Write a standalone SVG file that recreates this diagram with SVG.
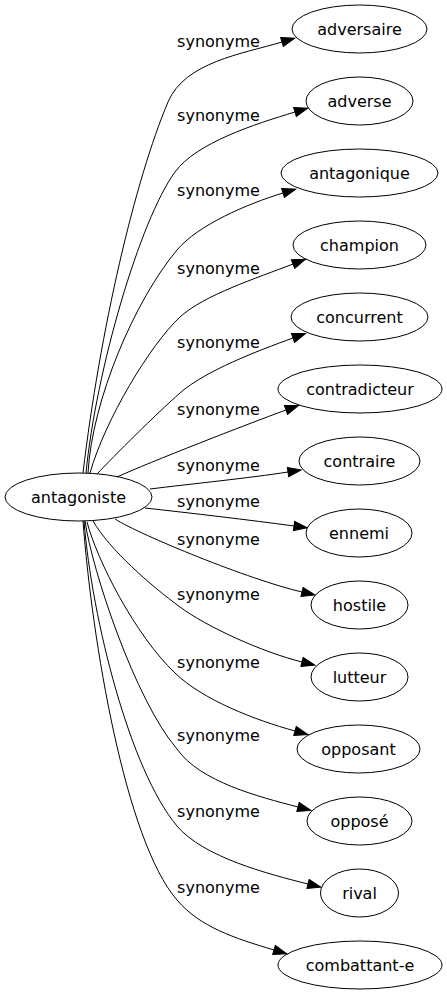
<svg xmlns="http://www.w3.org/2000/svg" width="447" height="995" viewBox="0 0 447 995">
<style>
.n ellipse{fill:none;stroke:#000;stroke-width:1}
text{font-family:"DejaVu Sans","Liberation Sans",sans-serif;font-size:16px;text-anchor:middle;fill:#000}
.e path{fill:none;stroke:#000;stroke-width:1;marker-end:url(#ah)}
</style>
<defs>
<marker id="ah" markerUnits="userSpaceOnUse" markerWidth="14" markerHeight="10" refX="0" refY="4.67" orient="auto" overflow="visible">
<path d="M0,0 L13.3,4.67 L0,9.33 Z" fill="#000" stroke="#000" stroke-width="1"/>
</marker>
</defs>
<rect width="447" height="995" fill="#fff"/>
<g id="connectors" class="e">
<g id="e1"><path d="M83,473 C100,330 135,180 168,102 C185,62 242,54 282,42"/><text x="218.5" y="47">synonyme</text></g>
<g id="e2"><path d="M86,473 C96,370 140,220 175,172 C196,143 255,124 295,112"/><text x="218.5" y="121">synonyme</text></g>
<g id="e3"><path d="M88,473 C92,400 135,300 177,250 C198,225 247,204 283,193"/><text x="218.5" y="196">synonyme</text></g>
<g id="e4"><path d="M90,473 C105,420 150,345 180,317 C204,295 257,278 293,264"/><text x="218.5" y="274">synonyme</text></g>
<g id="e5"><path d="M97,474 C115,455 155,415 180,393 C205,371 257,351 293,338"/><text x="218.5" y="347.5">synonyme</text></g>
<g id="e6"><path d="M117,477 C150,462 245,425 286,410"/><text x="218.5" y="415">synonyme</text></g>
<g id="e7"><path d="M150,489 C190,484 250,478 288,472"/><text x="218.5" y="470.5">synonyme</text></g>
<g id="e8"><path d="M145,508 C190,513 250,520 294,526"/><text x="218.5" y="507">synonyme</text></g>
<g id="e9"><path d="M115,519 C140,535 250,580 302,592"/><text x="218.5" y="545">synonyme</text></g>
<g id="e10"><path d="M93,521 C110,550 150,585 180,607 C207,627 262,652 302,662"/><text x="218.5" y="600">synonyme</text></g>
<g id="e11"><path d="M87,522 C97,560 135,635 175,673 C203,700 255,720 295,731"/><text x="218.5" y="668">synonyme</text></g>
<g id="e12"><path d="M85,521 C92,570 135,700 177,749 C200,782 260,797 298,807"/><text x="218.5" y="741">synonyme</text></g>
<g id="e13"><path d="M84,521 C92,620 130,770 177,826 C203,857 268,874 308,884"/><text x="218.5" y="816.5">synonyme</text></g>
<g id="e14"><path d="M83,521 C92,640 125,840 177,900 C200,927 234,938 274,950"/><text x="218.5" y="893">synonyme</text></g>
</g>
<g id="antagoniste" class="n"><ellipse cx="78.5" cy="497" rx="73.5" ry="24"/><text x="78.5" y="503">antagoniste</text></g>
<g id="adversaire" class="n"><ellipse cx="359.5" cy="29" rx="67.5" ry="24"/><text x="359.5" y="35">adversaire</text></g>
<g id="adverse" class="n"><ellipse cx="359.5" cy="101" rx="53.5" ry="24"/><text x="359.5" y="107">adverse</text></g>
<g id="antagonique" class="n"><ellipse cx="359.5" cy="173" rx="78.5" ry="24"/><text x="359.5" y="179">antagonique</text></g>
<g id="champion" class="n"><ellipse cx="359.5" cy="245" rx="66.5" ry="24"/><text x="359.5" y="251">champion</text></g>
<g id="concurrent" class="n"><ellipse cx="359.5" cy="317" rx="68.5" ry="24"/><text x="359.5" y="323">concurrent</text></g>
<g id="contradicteur" class="n"><ellipse cx="360" cy="389" rx="82" ry="24"/><text x="360" y="395">contradicteur</text></g>
<g id="contraire" class="n"><ellipse cx="359.5" cy="461" rx="60.5" ry="24"/><text x="359.5" y="467">contraire</text></g>
<g id="ennemi" class="n"><ellipse cx="359" cy="533" rx="53" ry="24"/><text x="359" y="539">ennemi</text></g>
<g id="hostile" class="n"><ellipse cx="359.5" cy="605" rx="48.5" ry="24"/><text x="359.5" y="611">hostile</text></g>
<g id="lutteur" class="n"><ellipse cx="359.5" cy="677" rx="48.5" ry="24"/><text x="359.5" y="683">lutteur</text></g>
<g id="opposant" class="n"><ellipse cx="358.5" cy="749" rx="61.5" ry="24"/><text x="358.5" y="755">opposant</text></g>
<g id="oppose" class="n"><ellipse cx="359.5" cy="821" rx="52.5" ry="24"/><text x="359.5" y="827">opposé</text></g>
<g id="rival" class="n"><ellipse cx="359.5" cy="893" rx="39" ry="24"/><text x="359.5" y="899">rival</text></g>
<g id="combattant-e" class="n"><ellipse cx="360" cy="965" rx="82" ry="24"/><text x="360" y="971">combattant-e</text></g>
</svg>
